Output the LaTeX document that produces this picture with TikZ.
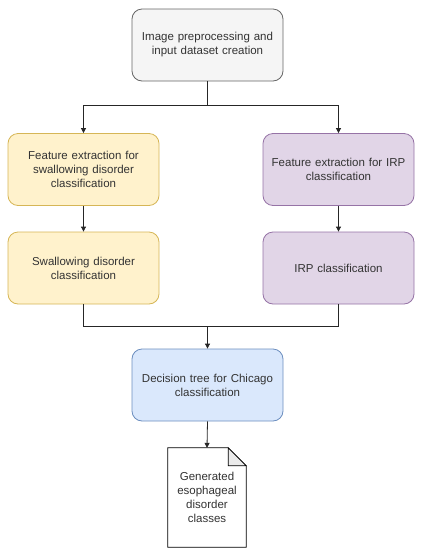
\documentclass[tikz,border=0pt]{standalone}
\usepackage{fontspec}
\setmainfont{Liberation Sans}
\usetikzlibrary{arrows.meta}
\definecolor{grayF}{HTML}{F5F5F5}\definecolor{grayS}{HTML}{666666}
\definecolor{yelF}{HTML}{FFF2CC}\definecolor{yelS}{HTML}{D6B656}
\definecolor{purF}{HTML}{E1D5E7}\definecolor{purS}{HTML}{9673A6}
\definecolor{bluF}{HTML}{DAE8FC}\definecolor{bluS}{HTML}{6C8EBF}
\definecolor{txt}{HTML}{333333}
\tikzset{
  box/.style={rounded corners=10pt, minimum width=151pt, minimum height=72pt, align=center, text width=140pt, font=\fontsize{11.5}{14}\selectfont, text=txt, line width=0.8pt},
  gbox/.style={box, fill=grayF, draw=grayS},
  ybox/.style={box, fill=yelF, draw=yelS},
  pbox/.style={box, fill=purF, draw=purS},
  bbox/.style={box, fill=bluF, draw=bluS},
  conn/.style={draw=black!85, line width=0.8pt},
  arr/.style={conn, -{Triangle[length=5pt,width=5pt]}},
}
\begin{document}
\begin{tikzpicture}[x=1pt,y=-1pt]
\useasboundingbox (0,0) rectangle (423,550);
\node[gbox] (top) at (207.5,45) {Image preprocessing and\\input dataset creation};
\node[ybox] (l1) at (83.5,169.5) {Feature extraction for\\swallowing disorder\\classification};
\node[ybox] (l2) at (83.5,268) {Swallowing disorder\\classification};
\node[pbox] (r1) at (338.5,169.5) {Feature extraction for IRP\\classification};
\node[pbox] (r2) at (338.5,268) {IRP classification};
\node[bbox] (dec) at (207.5,385) {Decision tree for Chicago\\classification};
\node[minimum width=78pt, minimum height=99pt, align=center, font=\fontsize{11.5}{14}\selectfont, text=txt] (doc) at (207,497.5) {Generated\\esophageal\\disorder\\classes};
\coordinate (split) at (207.5,105);
\coordinate (join) at (207.5,326);
\draw[line width=0.8pt, fill=white] (doc.north west) -- ([xshift=-18pt]doc.north east) -- ([yshift=-18pt]doc.north east) -- (doc.south east) -- (doc.south west) -- cycle;
\draw[line width=0.8pt, fill=black!8] ([xshift=-18pt]doc.north east) -- ([xshift=-18pt,yshift=-18pt]doc.north east) -- ([yshift=-18pt]doc.north east) -- cycle;
\node[align=center, font=\fontsize{11.5}{14}\selectfont, text=txt] at (doc.center) {Generated\\esophageal\\disorder\\classes};
\draw[conn] (top.south) -- (split);
\draw[arr] (split) -| (l1.north);
\draw[arr] (split) -| (r1.north);
\draw[arr] (l1) -- (l2);
\draw[arr] (r1) -- (r2);
\draw[conn] (l2.south) |- (join);
\draw[conn] (r2.south) |- (join);
\draw[arr] (join) -- (dec.north);
\draw[arr] (dec.south) -- (doc.north);
\end{tikzpicture}
\end{document}
